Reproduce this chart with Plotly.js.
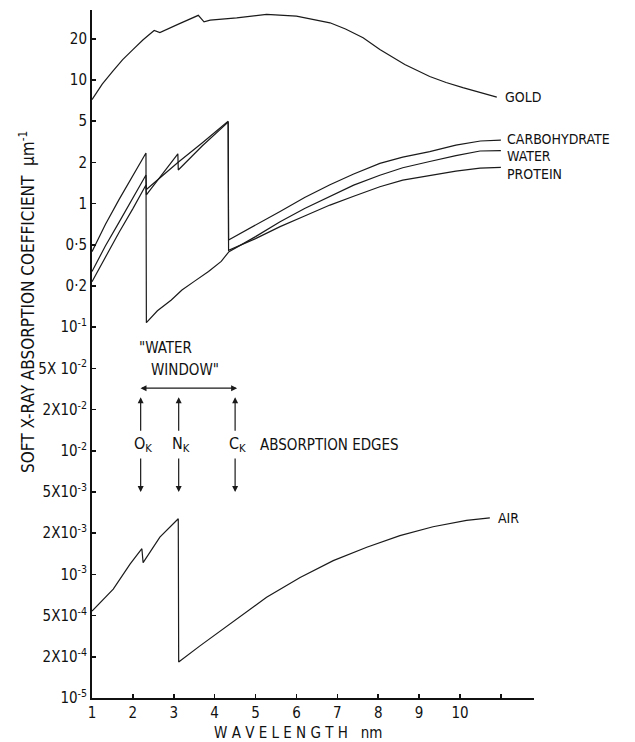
<!DOCTYPE html>
<html>
<head>
<meta charset="utf-8">
<script src="https://cdn.plot.ly/plotly-3.0.1.min.js"></script>
<style>html,body{margin:0;padding:0;background:#fff;}#chart{width:635px;height:742px;}</style>
</head>
<body>
<div id="chart"></div>
<script>
// Tick values of the (hand-drawn, equally spaced) absorption-coefficient axis, µm^-1
const tickValues = [1e-5, 2e-4, 5e-4, 1e-3, 2e-3, 5e-3, 1e-2, 2e-2, 5e-2, 1e-1, 0.2, 0.5, 1, 2, 5, 10, 20];
const tickLabels = ['10<sup>-5</sup>', '2X10<sup>-4</sup>', '5X10<sup>-4</sup>', '10<sup>-3</sup>', '2X10<sup>-3</sup>',
  '5X10<sup>-3</sup>', '10<sup>-2</sup>', '2X10<sup>-2</sup>', '5X 10<sup>-2</sup>', '10<sup>-1</sup>',
  '0·2', '0·5', '1', '2', '5', '10', '20'];
const xTicks = [1, 2, 3, 4, 5, 6, 7, 8, 9, 10, 11];
const xTickLabels = ['1', '2', '3', '4', '5', '6', '7', '8', '9', '10', ''];

// Wavelength (nm) and absorption coefficient (µm^-1)
const goldX = [1.0, 1.25, 1.51, 1.75, 2.0, 2.25, 2.52, 2.66, 3.1, 3.6, 3.74, 3.89, 4.54, 5.27, 6.0, 6.82, 7.2, 7.63,
  8.04, 8.65, 9.26, 9.66, 10.07, 10.5, 10.9];
const goldY = [7.2, 9.33, 11.6, 14.1, 16.7, 19.7, 23.0, 22.2, 25.5, 29.7, 26.6, 27.4, 28.5, 30.2, 29.3, 26.2, 23.6, 20.4,
  16.7, 13.0, 10.6, 9.6, 8.8, 8.07, 7.5];

const carbX = [1.0, 1.33, 1.66, 2.0, 2.32, 2.33, 3.1, 3.7, 4.33, 4.34, 5.0, 5.6, 6.2, 6.82, 7.4, 8.04, 8.6, 9.26, 9.9, 10.5, 11.0];
const carbY = [0.276, 0.49, 0.73, 1.087, 1.62, 1.27, 2.0, 3.1, 5.0, 0.543, 0.693, 0.877, 1.11, 1.375, 1.647, 1.97, 2.25,
  2.54, 2.94, 3.22, 3.28];

const waterX = [1.0, 1.33, 1.66, 2.0, 2.32, 2.33, 2.6, 2.94, 3.2, 3.51, 3.85, 4.16, 4.35, 5.0, 5.6, 6.2, 6.82, 7.4,
  8.04, 8.6, 9.26, 9.9, 10.49, 11.0];
const waterY = [0.43, 0.707, 1.07, 1.6, 2.47, 0.108, 0.132, 0.158, 0.187, 0.223, 0.276, 0.346, 0.43, 0.574, 0.737, 0.92,
  1.125, 1.366, 1.613, 1.83, 2.04, 2.33, 2.58, 2.6];

const protX = [1.0, 1.33, 1.66, 2.0, 2.32, 2.33, 3.1, 3.11, 3.7, 4.33, 4.34, 5.0, 5.6, 6.2, 6.82, 7.4, 8.04, 8.6, 9.26,
  9.9, 10.49, 11.0];
const protY = [0.22, 0.387, 0.616, 0.92, 1.37, 1.16, 2.42, 1.76, 2.9, 4.9, 0.443, 0.555, 0.679, 0.812, 0.976, 1.133,
  1.329, 1.484, 1.613, 1.729, 1.815, 1.84];

const airX = [1.0, 1.52, 1.93, 2.22, 2.25, 2.66, 3.11, 3.12, 3.64, 4.45, 5.27, 6.09, 6.90, 7.72, 8.53, 9.34, 10.16, 10.73];
const airY = [5.4e-4, 7.8e-4, 1.19e-3, 1.54e-3, 1.22e-3, 1.87e-3, 2.76e-3, 1.38e-4, 2.55e-4, 4.4e-4, 6.8e-4, 9.5e-4,
  1.26e-3, 1.58e-3, 1.92e-3, 2.31e-3, 2.66e-3, 2.81e-3];

// Absorption edges (nm) marked with arrows
const edgeNames = ['O<sub>K</sub>', 'N<sub>K</sub>', 'C<sub>K</sub>'];
const edgeX = [2.19, 3.12, 4.5];
const windowRange = [2.15, 4.55];

// Map a value onto the equally spaced tick axis (piecewise logarithmic between ticks)
function pos(v) {
  for (let i = 0; i < tickValues.length - 1; i++) {
    if (v <= tickValues[i + 1]) {
      return i + Math.log(v / tickValues[i]) / Math.log(tickValues[i + 1] / tickValues[i]);
    }
  }
  const n = tickValues.length - 1;
  return n + Math.log(v / tickValues[n]) / Math.log(tickValues[n] / tickValues[n - 1]);
}

const FONT = '"DejaVu Sans Condensed", "Liberation Sans Narrow", "DejaVu Sans", sans-serif';
const lineStyle = {color: '#1a1a1a', width: 1.2};
function tr(x, y, name) {
  return {x: x, y: y.map(pos), name: name, mode: 'lines', line: lineStyle, hoverinfo: 'skip'};
}
const traces = [
  tr(goldX, goldY, 'GOLD'),
  tr(carbX, carbY, 'CARBOHYDRATE'),
  tr(waterX, waterY, 'WATER'),
  tr(protX, protY, 'PROTEIN'),
  tr(airX, airY, 'AIR')
];

const txtFont = {family: FONT, size: 15, color: '#111'};
const lblFont = {family: FONT, size: 14, color: '#111'};
function label(text, x, yv, dy) {
  return {x: x, y: pos(yv), xref: 'x', yref: 'y', text: text, showarrow: false,
    xanchor: 'left', yanchor: 'middle', yshift: dy || 0, font: lblFont};
}
const ann = [
  label('GOLD', goldX[goldX.length - 1] + 0.15, goldY[goldY.length - 1], 0),
  label('CARBOHYDRATE', carbX[carbX.length - 1] + 0.1, carbY[carbY.length - 1], 1),
  label('WATER', waterX[waterX.length - 1] + 0.1, waterY[waterY.length - 1], -5),
  label('PROTEIN', protX[protX.length - 1] + 0.1, protY[protY.length - 1], -7),
  label('AIR', airX[airX.length - 1] + 0.15, airY[airY.length - 1], 0)
];

// Water window text and double arrow
ann.push({x: 2.1, y: 8.5, xref: 'x', yref: 'y', text: '"WATER', showarrow: false, xanchor: 'left', font: txtFont});
ann.push({x: 2.4, y: 7.96, xref: 'x', yref: 'y', text: 'WINDOW"', showarrow: false, xanchor: 'left', font: txtFont});
ann.push({x: windowRange[1], y: 7.52, ax: windowRange[0], ay: 7.52, xref: 'x', yref: 'y', axref: 'x', ayref: 'y',
  text: '', showarrow: true, arrowhead: 2, arrowside: 'end+start', arrowsize: 1, arrowwidth: 1.2, arrowcolor: '#1a1a1a'});

// Edge arrows and labels
edgeX.forEach(function (ex, i) {
  ann.push({x: ex, y: 7.3, ax: ex, ay: 6.45, xref: 'x', yref: 'y', axref: 'x', ayref: 'y', text: '',
    showarrow: true, arrowhead: 2, arrowsize: 1, arrowwidth: 1.2, arrowcolor: '#1a1a1a'});
  ann.push({x: ex, y: 5.0, ax: ex, ay: 5.85, xref: 'x', yref: 'y', axref: 'x', ayref: 'y', text: '',
    showarrow: true, arrowhead: 2, arrowsize: 1, arrowwidth: 1.2, arrowcolor: '#1a1a1a'});
  ann.push({x: ex + 0.05, y: 6.15, xref: 'x', yref: 'y', text: edgeNames[i], showarrow: false,
    xanchor: 'center', yanchor: 'middle', font: {family: FONT, size: 16, color: '#111'}});
});
ann.push({x: 5.06, y: 6.15, xref: 'x', yref: 'y', text: 'ABSORPTION EDGES', showarrow: false,
  xanchor: 'left', yanchor: 'middle', font: txtFont});

// Axis titles
ann.push({x: -0.178, y: 0.576, xref: 'paper', yref: 'paper', textangle: -90, showarrow: false,
  text: 'SOFT X-RAY ABSORPTION COEFFICIENT  µm<sup>-1</sup>', font: {family: FONT, size: 17, color: '#111'}});
ann.push({x: 0.466, y: -0.051, xref: 'paper', yref: 'paper', showarrow: false, yanchor: 'middle',
  text: 'W A V E L E N G T H   nm', font: {family: FONT, size: 15, color: '#111'}});

const layout = {
  width: 635, height: 742,
  margin: {l: 92, r: 101, t: 10, b: 44},
  paper_bgcolor: '#ffffff', plot_bgcolor: '#ffffff',
  showlegend: false,
  xaxis: {range: [1, 11.81], tickvals: xTicks, ticktext: xTickLabels, showgrid: false, zeroline: false,
    showline: true, linecolor: '#111', linewidth: 2, ticks: 'inside', ticklen: 4, tickwidth: 1.5, tickcolor: '#111',
    tickfont: {family: FONT, size: 15, color: '#111'}, fixedrange: true},
  yaxis: {range: [0, 16.7], tickvals: tickValues.map(pos), ticktext: tickLabels, showgrid: false, zeroline: false,
    showline: true, linecolor: '#111', linewidth: 2, ticks: 'inside', ticklen: 4, tickwidth: 1.5, tickcolor: '#111',
    tickfont: {family: FONT, size: 15, color: '#111'}, fixedrange: true},
  annotations: ann
};
Plotly.newPlot('chart', traces, layout, {staticPlot: true, displayModeBar: false});
</script>
</body>
</html>
